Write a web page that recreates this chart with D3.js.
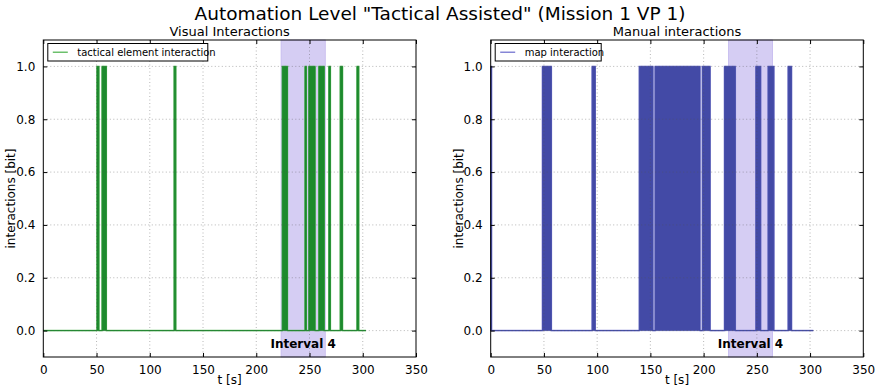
<!DOCTYPE html>
<html>
<head>
<meta charset="utf-8">
<script src="https://cdn.jsdelivr.net/npm/d3@7"></script>
<style>
    body { margin: 0; background: #fff; }
    svg { display: block; font-family: "DejaVu Sans", sans-serif; }
</style>
</head>
<body>
<div id="chart"></div>
<script>
/* data: on-intervals (value = 1) of each interaction signal, in seconds */
const visualStart = [50.4, 55.2, 122.9, 224.5, 245.8, 249.4, 258.8, 268.2, 278.9, 294.6];
const visualEnd   = [52.2, 59.2, 124.4, 229.3, 247.0, 255.2, 263.8, 269.6, 281.0, 296.2];
const manualStart = [0, 48.6, 95.3, 139.6, 154.4, 198.8, 219.6, 249.1, 260.6, 279.4];
const manualEnd   = [0.8, 57.0, 98.2, 152.4, 196.6, 206.1, 229.8, 253.6, 266.0, 282.6];
const tEnd = 303;

const intervalRange = [223.3, 264.8];
const intervalLabel = 'Interval 4';

const xTicks = [0, 50, 100, 150, 200, 250, 300, 350];
const yTicks = [0, 0.2, 0.4, 0.6, 0.8, 1.0];

const chartTitle = 'Automation Level "Tactical Assisted" (Mission 1 VP 1)';

const W = 877, H = 390;

const svg = d3.select('#chart').append('svg')
    .attr('width', W)
    .attr('height', H);

svg.append('text')
    .attr('x', 440)
    .attr('y', 20)
    .attr('text-anchor', 'middle')
    .style('font-size', '18.5px')
    .text(chartTitle);

/* build step points from the on-intervals */
function stepPoints (starts, ends) {
    const pts = [[0, 0]];
    starts.forEach((s, i) => {
        pts.push([s, 0], [s, 1], [ends[i], 1], [ends[i], 0]);
    });
    pts.push([tEnd, 0]);
    if (starts[0] === 0) pts.splice(0, 2);
    return pts;
}

function renderPanel (left, right, title, legendText, legendW, starts, ends, fillCol, lineCol) {
    const top = 40, bottom = 357;
    const x = d3.scaleLinear([0, 350], [left, right]);
    const y = d3.scaleLinear([-0.1, 1.1], [bottom, top]);
    const g = svg.append('g');

    g.append('text')
        .attr('x', (left + right) / 2)
        .attr('y', 35.5)
        .attr('text-anchor', 'middle')
        .style('font-size', '13px')
        .text(title);

    /* interval shading */
    g.append('rect')
        .attr('x', x(intervalRange[0]))
        .attr('y', top)
        .attr('width', x(intervalRange[1]) - x(intervalRange[0]))
        .attr('height', bottom - top)
        .style('fill', '#d5cdf3')
        .style('stroke', '#c4b8ee')
        .style('stroke-width', 0.8);

    const pts = stepPoints(starts, ends);

    const line = d3.line()
        .x(d => x(d[0]))
        .y(d => y(d[1]));

    g.append('path')
        .attr('d', line(pts))
        .style('fill', 'none')
        .style('stroke', lineCol)
        .style('stroke-width', 1.5);

    const area = d3.area()
        .x(d => x(d[0]))
        .y0(y(0))
        .y1(d => y(d[1]));

    g.append('path')
        .attr('d', area(pts))
        .style('fill', fillCol)
        .style('stroke', fillCol)
        .style('stroke-width', 0.8);

    /* grid on top, like matplotlib classic */
    const grid = g.append('g')
        .style('stroke', '#555')
        .style('stroke-width', 0.6)
        .style('stroke-dasharray', '1,2.5')
        .style('opacity', 0.7);
    xTicks.slice(1, -1).forEach(t => {
        grid.append('line')
            .attr('x1', x(t)).attr('x2', x(t))
            .attr('y1', top).attr('y2', bottom);
    });
    yTicks.forEach(t => {
        grid.append('line')
            .attr('x1', left).attr('x2', right)
            .attr('y1', y(t)).attr('y2', y(t));
    });

    g.append('text')
        .attr('x', x((intervalRange[0] + intervalRange[1]) / 2))
        .attr('y', y(-0.05) + 4)
        .attr('text-anchor', 'middle')
        .style('font-size', '12px')
        .style('font-weight', 'bold')
        .text(intervalLabel);

    /* axes with inward ticks */
    g.append('g')
        .attr('transform', `translate(0, ${bottom})`)
        .call(d3.axisBottom(x).tickValues(xTicks).tickSizeInner(-4).tickSizeOuter(0).tickPadding(8).tickFormat(d3.format('d')))
        .call(a => a.select('.domain').remove())
        .call(a => a.selectAll('text').style('font-size', '12px').style('fill', '#000').style('font-family', 'DejaVu Sans'));
    g.append('g')
        .attr('transform', `translate(0, ${top})`)
        .call(d3.axisTop(x).tickValues(xTicks).tickSizeInner(-4).tickSizeOuter(0).tickFormat(''))
        .call(a => a.select('.domain').remove());
    g.append('g')
        .attr('transform', `translate(${left}, 0)`)
        .call(d3.axisLeft(y).tickValues(yTicks).tickSizeInner(-4).tickSizeOuter(0).tickPadding(8).tickFormat(d3.format('.1f')))
        .call(a => a.select('.domain').remove())
        .call(a => a.selectAll('text').style('font-size', '12px').style('fill', '#000').style('font-family', 'DejaVu Sans'));
    g.append('g')
        .attr('transform', `translate(${right}, 0)`)
        .call(d3.axisRight(y).tickValues(yTicks).tickSizeInner(-4).tickSizeOuter(0).tickFormat(''))
        .call(a => a.select('.domain').remove());

    g.append('rect')
        .attr('x', left).attr('y', top)
        .attr('width', right - left).attr('height', bottom - top)
        .style('fill', 'none')
        .style('stroke', '#000')
        .style('stroke-width', 1);

    g.append('text')
        .attr('x', (left + right) / 2)
        .attr('y', 384)
        .attr('text-anchor', 'middle')
        .style('font-size', '12px')
        .text('t [s]');

    g.append('text')
        .attr('transform', `translate(${left - 28}, ${(top + bottom) / 2}) rotate(-90)`)
        .attr('text-anchor', 'middle')
        .style('font-size', '12px')
        .text('interactions [bit]');

    /* legend */
    const lg = g.append('g').attr('transform', `translate(${left + 4.5}, 43.5)`);
    lg.append('rect')
        .attr('width', legendW).attr('height', 17.5)
        .style('fill', '#fff')
        .style('stroke', '#000')
        .style('stroke-width', 1);
    lg.append('line')
        .attr('x1', 5).attr('x2', 20)
        .attr('y1', 8.75).attr('y2', 8.75)
        .style('stroke', lineCol)
        .style('stroke-width', 1.5);
    lg.append('text')
        .attr('x', 29.5)
        .attr('y', 12.5)
        .style('font-size', '10px')
        .text(legendText);
}

renderPanel(43.3, 416, 'Visual Interactions', 'tactical element interaction', 160,
    visualStart, visualEnd, '#1d8a2d', '#6cc06c');
renderPanel(490.7, 863.3, 'Manual interactions', 'map interaction', 106,
    manualStart, manualEnd, '#434aa6', '#8686d6');
</script>
</body>
</html>
